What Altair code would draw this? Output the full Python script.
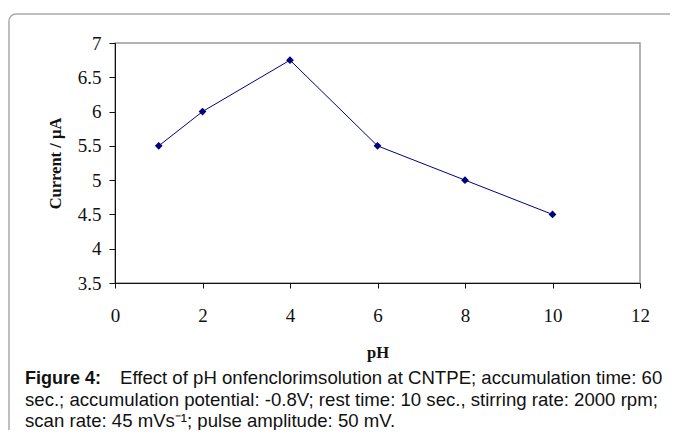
import altair as alt
import pandas as pd

# Data
ph = [1, 2, 4, 6, 8, 10]
current = [5.5, 6.0, 6.75, 5.5, 5.0, 4.5]

x_ticks = [0, 2, 4, 6, 8, 10, 12]
y_ticks = [3.5, 4.0, 4.5, 5.0, 5.5, 6.0, 6.5, 7.0]

x_title = "pH"
y_title = "Current / µA"

caption_label = ["Figure 4:"]
caption_lines = [
    "Effect of pH onfenclorimsolution at CNTPE; accumulation time: 60",
    "sec.; accumulation potential: -0.8V; rest time: 10 sec., stirring rate: 2000 rpm;",
    "scan rate: 45 mVs⁻¹; pulse amplitude: 50 mV.",
]

df = pd.DataFrame({"pH": ph, "Current": current})

navy = "#000080"

x_enc = alt.X(
    "pH:Q",
    scale=alt.Scale(domain=[0, 12], nice=False),
    axis=alt.Axis(
        values=x_ticks, title=x_title, grid=False,
        labelFont="Liberation Serif", labelFontSize=19, labelColor="#111",
        labelPadding=18, tickSize=5, tickColor="#111", domainColor="#111",
        labelFlush=False, labelOverlap=False,
        titleFont="Liberation Serif", titleFontSize=16.5, titleFontWeight="bold",
        titleColor="#111", titleBaseline="alphabetic", titleY=74,
    ),
)
y_enc = alt.Y(
    "Current:Q",
    scale=alt.Scale(domain=[3.5, 7], nice=False, zero=False),
    axis=alt.Axis(
        values=y_ticks, title=y_title, grid=False, format="~g",
        labelFont="Liberation Serif", labelFontSize=19, labelColor="#111",
        labelPadding=8, tickSize=6, tickColor="#111", domainColor="#111",
        labelFlush=False, labelOverlap=False,
        titleFont="Liberation Serif", titleFontSize=16.5, titleFontWeight="bold",
        titleColor="#111", titleX=-60, titleY=120, titleAngle=270,
        titleAlign="center", titleBaseline="middle",
    ),
)

base = alt.Chart(df).encode(x=x_enc, y=y_enc)

line = base.mark_line(color=navy, strokeWidth=1)
points = base.mark_point(shape="diamond", filled=True, size=60, color=navy, opacity=1)

box = alt.Chart(pd.DataFrame({"k": [0]})).mark_rect(
    cornerRadius=7, stroke="#aaaaaa", strokeWidth=1.5, fillOpacity=0, fill="white"
).encode(
    x=alt.value(-106), x2=alt.value(620), y=alt.value(-29), y2=alt.value(430)
)

label = alt.Chart(pd.DataFrame({"t": caption_label})).mark_text(
    align="left", baseline="alphabetic", font="Liberation Sans", fontSize=18,
    fontWeight="bold", color="#111"
).encode(text="t:N", x=alt.value(-90), y=alt.value(341))

cap_layers = []
cap_pos = [(5, 341), (-90, 363), (-90, 384)]
for txt, (px, py) in zip(caption_lines, cap_pos):
    cap_layers.append(
        alt.Chart(pd.DataFrame({"t": [txt]})).mark_text(
            align="left", baseline="alphabetic", font="Liberation Sans",
            fontSize=18.6, color="#111"
        ).encode(text="t:N", x=alt.value(px), y=alt.value(py))
    )

chart = alt.layer(box, line, points, label, *cap_layers).properties(
    width=525, height=240,
    autosize=alt.AutoSizeParams(type="none"),
    padding={"left": 107, "top": 35, "right": 30, "bottom": 147},
    background="white",
).configure_view(stroke="#9a9a9a", strokeWidth=1.5)

chart.save("out.html", embed_options={"renderer": "svg", "actions": False})
